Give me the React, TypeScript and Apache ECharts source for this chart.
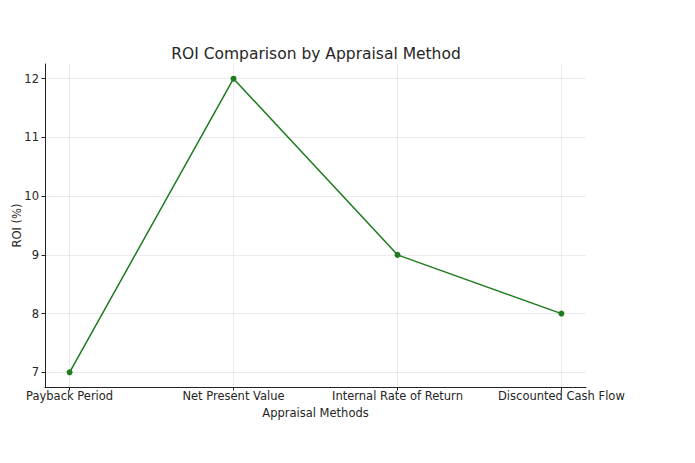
import React, { useEffect, useRef } from "react";
import * as echarts from "echarts";

const categories = ["Payback Period", "Net Present Value", "Internal Rate of Return", "Discounted Cash Flow"];
const roiValues = [7, 12, 9, 8];
const yTicks = [7, 8, 9, 10, 11, 12];
const xTicks = [0, 1, 2, 3];

export default function App() {
  const ref = useRef<HTMLDivElement>(null);
  useEffect(() => {
    if (!ref.current) return;
    const chart = echarts.init(ref.current, undefined, { renderer: "svg" });
    const font = "DejaVu Sans";
    const textColor = "#262626";
    const gridColor = "#e6e6e6";
    chart.setOption({
      animation: false,
      backgroundColor: "#ffffff",
      textStyle: { fontFamily: font },
      graphic: [
        {
          type: "text",
          x: 316,
          y: 54,
          style: {
            text: "ROI Comparison by Appraisal Method",
            fontFamily: font,
            fontSize: 15.5,
            fill: textColor,
            textAlign: "center",
            textVerticalAlign: "middle",
          },
        },
      ],
      grid: { left: 45, right: 109, top: 64, bottom: 76, containLabel: false, outerBoundsMode: "none" },
      xAxis: {
        type: "value",
        min: -0.15,
        max: 3.15,
        name: "Appraisal Methods",
        nameLocation: "middle",
        nameGap: 17,
        nameTextStyle: { fontFamily: font, fontSize: 11.5, color: textColor },
        axisLine: { show: true, onZero: false, lineStyle: { color: "#222", width: 1 } },
        axisTick: { show: true, customValues: xTicks, length: 3.5, lineStyle: { color: "#222" } },
        axisLabel: {
          customValues: xTicks,
          formatter: (v: number) => categories[Math.round(v)] ?? "",
          fontFamily: font,
          fontSize: 11.5,
          color: textColor,
          margin: 3,
        },
        splitLine: { show: true, lineStyle: { color: gridColor, width: 0.8 } },
      },
      yAxis: {
        type: "value",
        min: 6.75,
        max: 12.25,
        name: "ROI (%)",
        nameLocation: "middle",
        nameGap: 22,
        nameMoveOverlap: false,
        nameTextStyle: { fontFamily: font, fontSize: 11.5, color: textColor },
        axisLine: { show: true, onZero: false, lineStyle: { color: "#222", width: 1 } },
        axisTick: { show: true, customValues: yTicks, length: 3.5, lineStyle: { color: "#222" } },
        axisLabel: {
          customValues: yTicks,
          formatter: (v: number) => String(Math.round(v)),
          fontFamily: font,
          fontSize: 11.5,
          color: textColor,
          margin: 6,
        },
        splitLine: { show: true, lineStyle: { color: gridColor, width: 0.8 } },
      },
      series: [
        {
          type: "line",
          z: 3,
          data: roiValues.map((v, i) => [i, v]),
          symbol: "circle",
          symbolSize: 6,
          lineStyle: { color: "#1e7b1e", width: 1.5 },
          itemStyle: { color: "#1e7b1e", borderWidth: 0 },
        },
      ],
    });
    return () => chart.dispose();
  }, []);
  return (
    <div
      ref={ref}
      style={{ position: "fixed", left: 0, top: 0, width: 695, height: 463 }}
    />
  );
}
